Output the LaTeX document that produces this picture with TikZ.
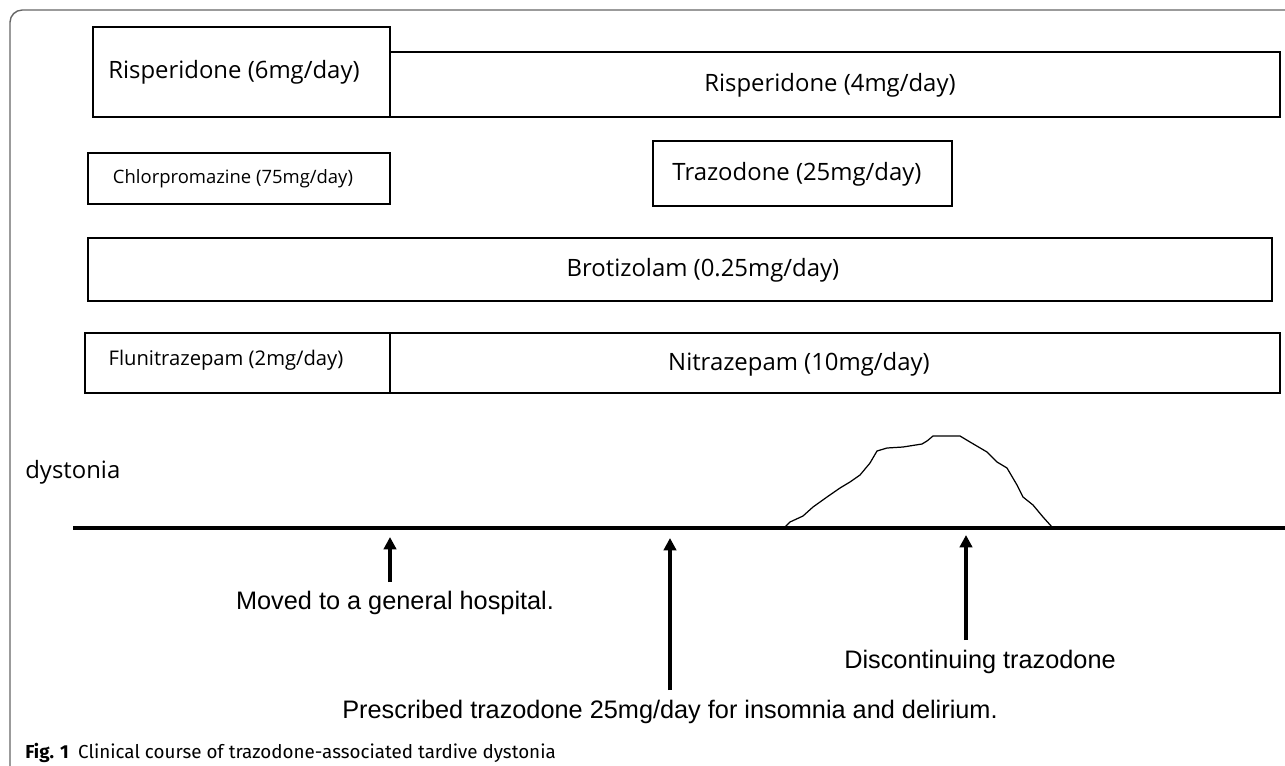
\documentclass[tikz,border=0pt]{standalone}
\usepackage{fontspec}
\setmainfont{Open Sans}
\newfontfamily\arialfont{Liberation Sans}
\newfontfamily\capfont{Fira Sans}
\usetikzlibrary{arrows.meta,fit}

\begin{document}
\begin{tikzpicture}[x=0.02cm,y=-0.02cm,
    drugbox/.style={draw,line width=0.85pt,inner sep=0pt},
    drugtext/.style={inner sep=0pt,font=\fontsize{13.6}{16}\selectfont},
    smalltext/.style={drugtext,font=\fontsize{10.5}{13}\selectfont},
    eventtext/.style={inner sep=0pt,font=\arialfont\fontsize{14.4}{17}\selectfont},
    evarrow/.style={line width=1.8pt,-{Triangle[length=7pt,width=7pt]}}]
    \useasboundingbox (0,0) rectangle (1285,765);
    \begin{scope}
        \clip (0,0) rectangle (1285,765);
        \draw[black!60,line width=0.8pt,rounded corners=7pt] (10,10) rectangle (1310,790);
    \end{scope}
    % drug boxes
    \node[drugbox,fit={(93,27)(390,117)}] (risp6) {};
    \node[drugbox,fit={(390,52)(1280,117)}] (risp4) {};
    \node[drugbox,fit={(88,153)(390,204)}] (chlor) {};
    \node[drugbox,fit={(653,141)(952,206)}] (traz) {};
    \node[drugbox,fit={(88,238)(1272,301)}] (brot) {};
    \node[drugbox,fit={(85,333)(390,393)}] (fluni) {};
    \node[drugbox,fit={(390,333)(1280,393)}] (nitra) {};
    \node[drugtext] (risp6t) at (234,72) {Risperidone (6mg/day)};
    \node[drugtext] (risp4t) at (830,85) {Risperidone (4mg/day)};
    \node[smalltext] (chlort) at (233,179) {Chlorpromazine (75mg/day)};
    \node[drugtext] (trazt) at (797,174) {Trazodone (25mg/day)};
    \node[drugtext] (brott) at (703,270) {Brotizolam (0.25mg/day)};
    \node[smalltext,font=\fontsize{11.5}{13}\selectfont] (flunit) at (226,360) {Flunitrazepam (2mg/day)};
    \node[drugtext] (nitrat) at (799,364) {Nitrazepam (10mg/day)};
    % course of dystonia
    \node[drugtext,anchor=west] (dyst) at (25,472) {dystonia};
    \coordinate (axisL) at (73,528);
    \coordinate (axisR) at (1285,528);
    \draw[line width=1.9pt] (axisL) -- (axisR);
    \draw[line width=0.7pt,line join=round] (785,527) -- (790,522) -- (803,516) -- (813,507)
        -- (827,497) -- (840,488) -- (850,482) -- (860,475) -- (870,463) -- (877,451)
        -- (887,448) -- (903,447) -- (922,444) -- (927,441) -- (933,436) -- (960,436)
        -- (970,442) -- (987,452) -- (997,462) -- (1007,468) -- (1017,485) -- (1023,497)
        -- (1033,505) -- (1043,517) -- (1052,527);
    % events
    \node[eventtext] (moved) at (395,603) {Moved to a general hospital.};
    \node[eventtext] (presc) at (670,712) {Prescribed trazodone 25mg/day for insomnia and delirium.};
    \node[eventtext] (disc) at (980,662) {Discontinuing trazodone};
    \coordinate (tip1) at (390,537);
    \coordinate (tip2) at (670,538);
    \coordinate (tip3) at (966,535);
    \draw[evarrow] (390,582) -- (tip1);
    \draw[evarrow] (670,690) -- (tip2);
    \draw[evarrow] (966,640) -- (tip3);
    \node[anchor=west,inner sep=0pt,font=\capfont\fontsize{10.7}{12}\selectfont] (cap) at (25,753)
        {\textbf{Fig. 1}\hspace{0.5em}Clinical course of trazodone-associated tardive dystonia};
\end{tikzpicture}
\end{document}
